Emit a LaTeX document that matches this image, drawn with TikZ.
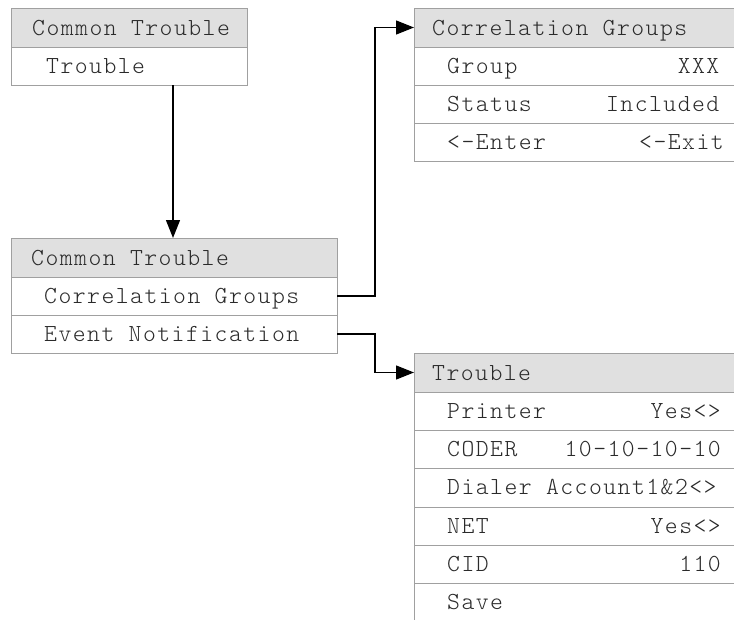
\documentclass[tikz,border=0pt]{standalone}
\usepackage{fontspec}
\setmainfont{Latin Modern Mono Light}[LetterSpace=6]
\usetikzlibrary{arrows.meta,calc,positioning}
\definecolor{bordergray}{HTML}{A0A0A0}
\definecolor{headfill}{HTML}{E0E0E0}
\definecolor{txt}{HTML}{2A2A2A}
\tikzset{
  cell/.style={draw=bordergray, line width=1pt, anchor=north west, inner sep=0pt, outer sep=0pt},
  headcell/.style={cell, fill=headfill},
  rowcell/.style={cell, fill=white},
  lbl/.style={anchor=base west, inner sep=0pt, text=txt, font=\fontsize{24.5}{28}\selectfont},
  val/.style={anchor=base east, inner sep=0pt, text=txt, font=\fontsize{24.5}{28}\selectfont},
  conn/.style={line width=1.4pt, black, -{Triangle[length=18pt,width=14pt]}}
}
\begin{document}
\begin{tikzpicture}[x=1pt,y=-1pt]
\clip (0,0) rectangle (734,619);
\fill[white] (0,0) rectangle (734,619);
% Box A
\node[headcell, minimum width=236pt, minimum height=39pt] (A0) at (11,8) {};
\node[rowcell, minimum width=236pt, minimum height=38pt] (A1) at (11,47) {};
\node[lbl] (A0t) at ($(A0.west)+(21,7.5)$) {Common Trouble};
\node[lbl] (A1t) at ($(A1.west)+(35,7)$) {Trouble};
% Box B
\node[headcell, minimum width=326pt, minimum height=39pt] (B0) at (11,238) {};
\node[rowcell, minimum width=326pt, minimum height=38pt] (B1) at (11,277) {};
\node[rowcell, minimum width=326pt, minimum height=38pt] (B2) at (11,315) {};
\node[lbl] (B0t) at ($(B0.west)+(20,7.5)$) {Common Trouble};
\node[lbl] (B1t) at ($(B1.west)+(33,7)$) {Correlation Groups};
\node[lbl] (B2t) at ($(B2.west)+(33,7)$) {Event Notification};
% Box C
\node[headcell, minimum width=360pt, minimum height=39pt] (C0) at (414,8) {};
\node[rowcell, minimum width=360pt, minimum height=38pt] (C1) at (414,47) {};
\node[rowcell, minimum width=360pt, minimum height=38pt] (C2) at (414,85) {};
\node[rowcell, minimum width=360pt, minimum height=38pt] (C3) at (414,123) {};
\node[lbl] (C0t) at ($(C0.west)+(18,7.5)$) {Correlation Groups};
\node[lbl] (C1t) at ($(C1.west)+(33,7)$) {Group};
\node[val] (C1v) at ($(C1.west)+(305.5,7)$) {XXX};
\node[lbl] (C2t) at ($(C2.west)+(33,7)$) {Status};
\node[val] (C2v) at ($(C2.west)+(305.5,7)$) {Included};
\node[lbl] (C3t) at ($(C3.west)+(33,7)$) {<-Enter};
\node[lbl] (C3v) at ($(C3.west)+(225,7)$) {<-Exit};
% Box D
\node[headcell, minimum width=360pt, minimum height=39pt] (D0) at (414,353) {};
\node[rowcell, minimum width=360pt, minimum height=38pt] (D1) at (414,392) {};
\node[rowcell, minimum width=360pt, minimum height=38pt] (D2) at (414,430) {};
\node[rowcell, minimum width=360pt, minimum height=39pt] (D3) at (414,468) {};
\node[rowcell, minimum width=360pt, minimum height=38pt] (D4) at (414,507) {};
\node[rowcell, minimum width=360pt, minimum height=38pt] (D5) at (414,545) {};
\node[rowcell, minimum width=360pt, minimum height=60pt] (D6) at (414,583) {};
\node[lbl] (D0t) at ($(D0.west)+(18,7.5)$) {Trouble};
\node[lbl] (D1t) at ($(D1.west)+(33,7)$) {Printer};
\node[val] (D1v) at ($(D1.west)+(307,7)$) {Yes<>};
\node[lbl] (D2t) at ($(D2.west)+(33,7)$) {CODER};
\node[val] (D2v) at ($(D2.west)+(307,7)$) {10-10-10-10};
\node[lbl] (D3t) at ($(D3.west)+(33,7)$) {Dialer Account1\&2<>};
\node[lbl] (D4t) at ($(D4.west)+(33,7)$) {NET};
\node[val] (D4v) at ($(D4.west)+(307,7)$) {Yes<>};
\node[lbl] (D5t) at ($(D5.west)+(33,7)$) {CID};
\node[val] (D5v) at ($(D5.west)+(307,7)$) {110};
\node[lbl] (D6t) at ($(D6.north west)+(33,26)$) {Save};
% Connectors
\coordinate (pa) at ($(A1.south west)+(162,0)$);
\draw[conn] (pa) -- (pa |- B0.north);
\draw[conn] (B1.east) -- ++(38,0) |- (C0.west);
\draw[conn] (B2.east) -- ++(38,0) |- (D0.west);
\end{tikzpicture}
\end{document}
